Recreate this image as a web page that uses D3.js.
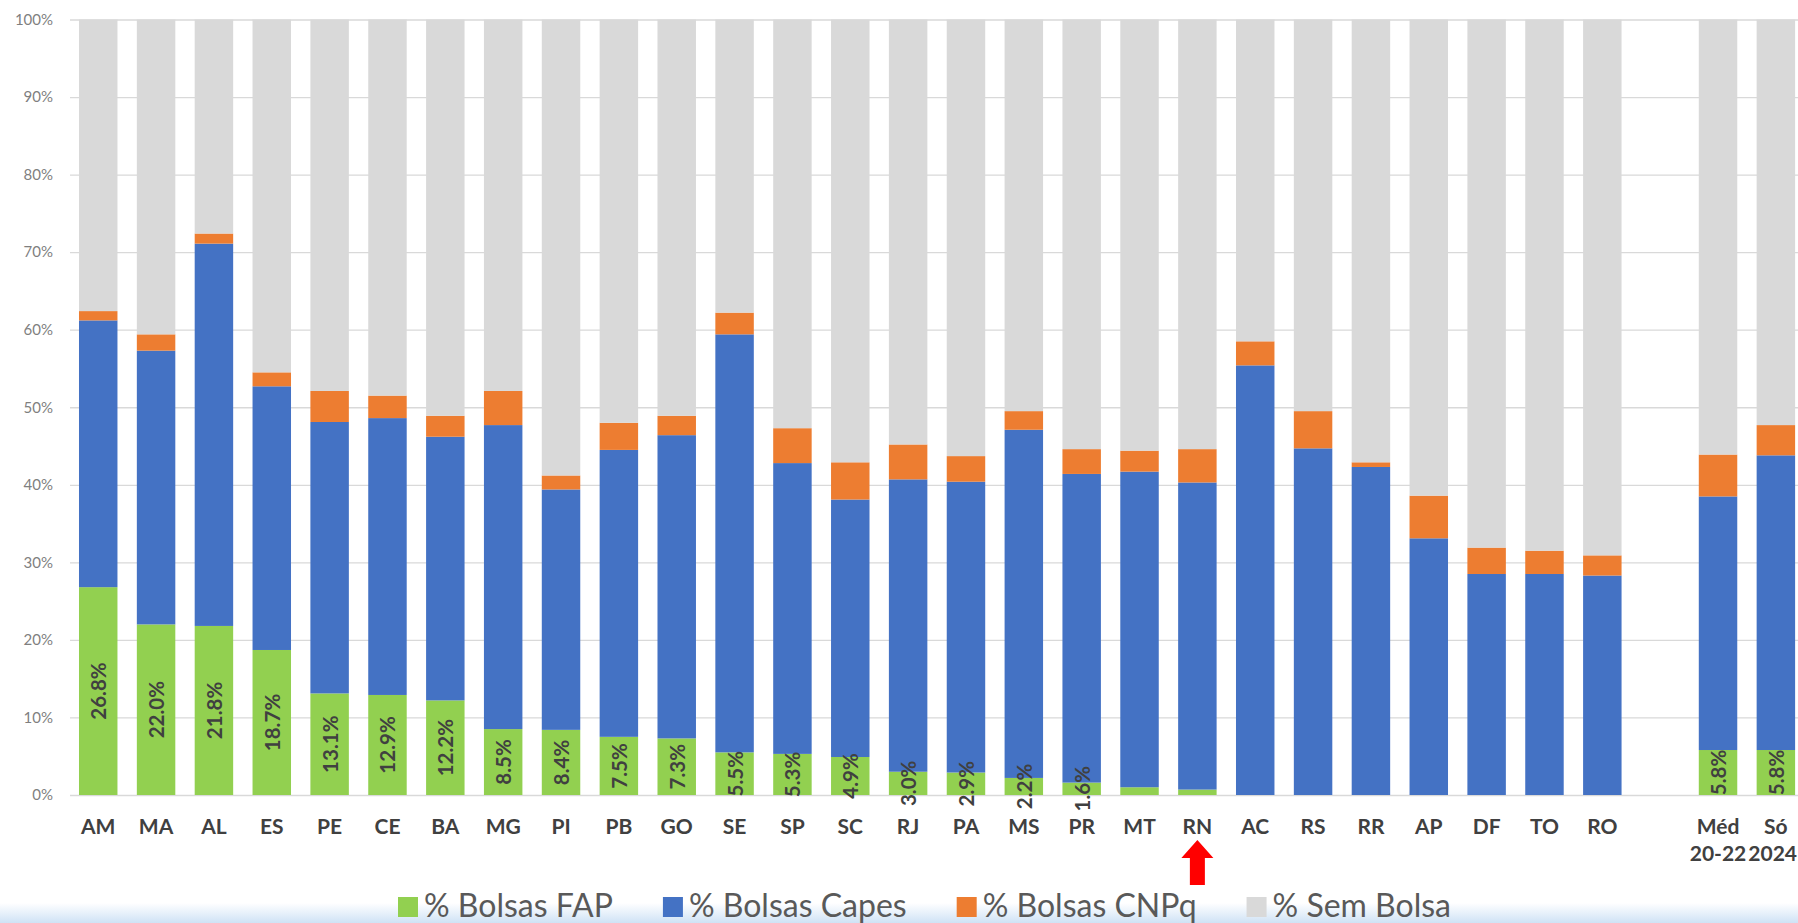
<!DOCTYPE html>
<html>
<head>
<meta charset="utf-8">
<script src="https://cdn.jsdelivr.net/npm/d3@7"></script>
<style>
  body { margin: 0; background: #ffffff; }
  svg { display: block; font-family: Lato, "Open Sans", sans-serif; }
</style>
</head>
<body>
<script>
// Categories (states, then the two summary bars after a gap)
var categories = ["AM", "MA", "AL", "ES", "PE", "CE", "BA", "MG", "PI", "PB", "GO", "SE", "SP", "SC",
  "RJ", "PA", "MS", "PR", "MT", "RN", "AC", "RS", "RR", "AP", "DF", "TO", "RO", "Méd 20-22", "Só 2024"];
var gapAfter = "RO";
var highlightCategory = "RN";

// Series values (% of students)
var fapValues = [26.8, 22.0, 21.8, 18.7, 13.1, 12.9, 12.2, 8.5, 8.4, 7.5, 7.3, 5.5, 5.3, 4.9,
  3.0, 2.9, 2.2, 1.6, 1.0, 0.7, 0, 0, 0, 0, 0, 0, 0, 5.8, 5.8];
var capesValues = [34.4, 35.3, 49.3, 34.0, 35.0, 35.7, 34.0, 39.2, 31.0, 37.0, 39.1, 53.9, 37.5, 33.2,
  37.7, 37.5, 44.9, 39.8, 40.7, 39.6, 55.4, 44.7, 42.3, 33.1, 28.5, 28.5, 28.3, 32.7, 38.0];
var cnpqValues = [1.2, 2.1, 1.3, 1.8, 4.0, 2.9, 2.7, 4.4, 1.8, 3.5, 2.5, 2.8, 4.5, 4.8,
  4.5, 3.3, 2.4, 3.2, 2.7, 4.3, 3.1, 4.8, 0.6, 5.5, 3.4, 3.0, 2.6, 5.4, 3.9];
var semBolsaValues = [37.6, 40.6, 27.6, 45.5, 47.9, 48.5, 51.1, 47.9, 58.8, 52.0, 51.1, 37.8, 52.7, 57.1,
  54.8, 56.3, 50.5, 55.4, 55.6, 55.4, 41.5, 50.5, 57.1, 61.4, 68.1, 68.5, 69.1, 56.1, 52.3];

var seriesKeys = ["fap", "capes", "cnpq", "sem"];
var seriesNames = ["% Bolsas FAP", "% Bolsas Capes", "% Bolsas CNPq", "% Sem Bolsa"];
var seriesColors = ["#92d050", "#4472c4", "#ed7d31", "#d9d9d9"];

// Y axis tick values
var yTicks = [0, 10, 20, 30, 40, 50, 60, 70, 80, 90, 100];

// SVG area
var svgWidth = 1798;
var svgHeight = 923;
var plotLeft = 70;
var plotTop = 19.5;
var plotBottom = 795;

var svg = d3.select("body")
  .append("svg")
  .attr("width", svgWidth)
  .attr("height", svgHeight);

// Build the rows for the stack
var rows = categories.map(function(c, i) {
  return { category: c, fap: fapValues[i], capes: capesValues[i], cnpq: cnpqValues[i], sem: semBolsaValues[i] };
});
var stacked = d3.stack().keys(seriesKeys)(rows);

// x domain has an empty slot between the states and the summary bars
var xDomain = [];
categories.forEach(function(c) {
  xDomain.push(c);
  if (c === gapAfter) xDomain.push("__gap");
});

var xScale = d3.scaleBand()
  .domain(xDomain)
  .range([69.3, 69.3 + 57.85 * xDomain.length])
  .paddingInner(0.335)
  .paddingOuter(0.1675);

var yScale = d3.scaleLinear()
  .domain([0, 100])
  .range([plotBottom, plotTop]);

// bottom strip (light blue band of the screenshot)
var defs = svg.append("defs");
var grad = defs.append("linearGradient")
  .attr("id", "bottomBand")
  .attr("x1", 0).attr("y1", 0).attr("x2", 0).attr("y2", 1);
grad.append("stop").attr("offset", "0%").attr("stop-color", "#ffffff");
grad.append("stop").attr("offset", "100%").attr("stop-color", "#cfe2f5");
svg.append("rect")
  .attr("x", 0)
  .attr("y", 903)
  .attr("width", svgWidth)
  .attr("height", 20)
  .attr("fill", "url(#bottomBand)");

// Y axis with gridlines
var yAxis = d3.axisLeft(yScale)
  .tickValues(yTicks)
  .tickSize(-(svgWidth - plotLeft))
  .tickPadding(17)
  .tickFormat(function(d) { return d + "%"; });

var yGroup = svg.append("g")
  .attr("transform", `translate(${plotLeft}, 0)`)
  .call(yAxis);
yGroup.select(".domain").remove();
yGroup.selectAll("line").attr("stroke", "#d9d9d9").attr("stroke-width", 1.3);
yGroup.selectAll("text")
  .attr("fill", "#7f7f7f")
  .style("font-size", "15px")
  .style("font-family", "Lato, sans-serif");

// Stacked bars
svg.append("g")
  .selectAll("g")
  .data(stacked)
  .enter()
  .append("g")
  .attr("fill", function(d, i) { return seriesColors[i]; })
  .selectAll("rect")
  .data(function(d) { return d; })
  .enter()
  .append("rect")
  .attr("x", function(d) { return xScale(d.data.category); })
  .attr("y", function(d) { return yScale(d[1]); })
  .attr("width", xScale.bandwidth())
  .attr("height", function(d) { return yScale(d[0]) - yScale(d[1]); });

// X axis labels
var xAxis = d3.axisBottom(xScale)
  .tickValues(categories)
  .tickSize(0);

var xGroup = svg.append("g")
  .attr("transform", `translate(0, ${plotBottom})`)
  .call(xAxis);
xGroup.select(".domain").remove();
xGroup.selectAll("text")
  .attr("y", 39)
  .attr("dy", null)
  .attr("fill", "#404040")
  .style("font-size", "21px")
  .style("font-weight", "bold")
  .style("font-family", "Lato, sans-serif")
  .text(null)
  .each(function(d) {
    var parts = d.split(" ");
    var t = d3.select(this);
    parts.forEach(function(p, i) {
      t.append("tspan")
        .attr("x", 0)
        .attr("dy", i === 0 ? 0 : 27)
        .text(p);
    });
  });

// keep each label line inside the picture
xGroup.selectAll("tspan").each(function() {
  var box = this.getBoundingClientRect();
  if (box.right > svgWidth - 1) {
    d3.select(this).attr("x", -(box.right - (svgWidth - 1)));
  }
});

// FAP value labels (rotated, centred in the green segment)
var fmt = d3.format(".1f");
svg.append("g")
  .selectAll("text")
  .data(rows.filter(function(d) { return d.fap >= 1.5; }))
  .enter()
  .append("text")
  .attr("transform", function(d) {
    var cx = xScale(d.category) + xScale.bandwidth() / 2;
    var cy = yScale(d.fap / 2);
    return `translate(${cx}, ${cy}) rotate(-90)`;
  })
  .attr("text-anchor", "middle")
  .attr("dominant-baseline", "central")
  .attr("fill", "#404040")
  .style("font-size", "20.5px")
  .style("font-weight", "bold")
  .text(function(d) { return fmt(d.fap) + "%"; });

// Red arrow under the highlighted state
var ax = xScale(highlightCategory) + xScale.bandwidth() / 2;
svg.append("path")
  .attr("d", `M${ax},840 L${ax + 16},858 L${ax + 7.5},858 L${ax + 7.5},885 L${ax - 7.5},885 L${ax - 7.5},858 L${ax - 16},858 Z`)
  .attr("fill", "#ff0000");

// Legend
var legend = svg.append("g").attr("transform", "translate(398, 917)");
var lx = 0;
seriesNames.forEach(function(name, i) {
  var item = legend.append("g").attr("transform", `translate(${lx}, 0)`);
  item.append("rect")
    .attr("x", 0)
    .attr("y", -20)
    .attr("width", 20)
    .attr("height", 20)
    .attr("fill", seriesColors[i]);
  var t = item.append("text")
    .attr("x", 26)
    .attr("y", 0)
    .attr("fill", "#595959")
    .style("font-size", "32px")
    .text(name);
  lx += 26 + t.node().getComputedTextLength() + 50;
});
</script>
</body>
</html>
